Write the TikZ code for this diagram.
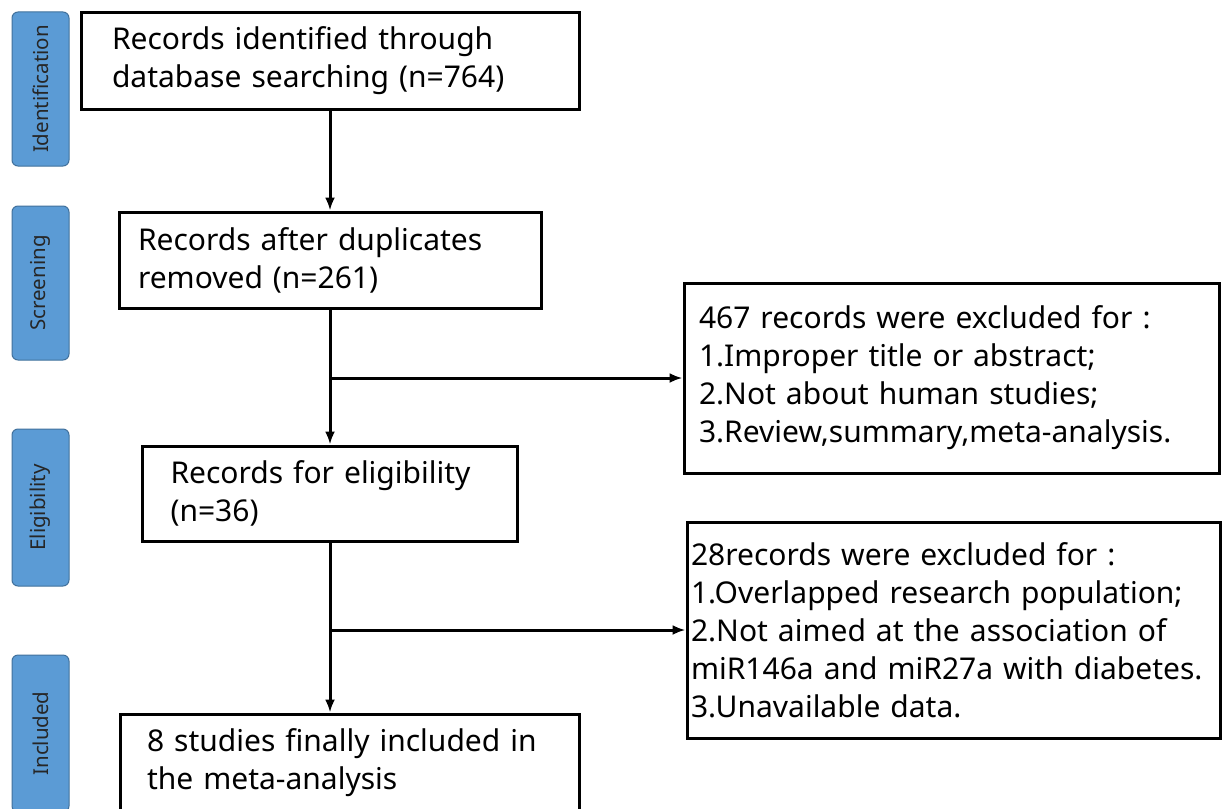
\documentclass[tikz,border=0pt]{standalone}
\usepackage{fontspec}
\setmainfont{Noto Sans}
\usetikzlibrary{arrows.meta}
\definecolor{stageblue}{RGB}{91,155,213}
\definecolor{stageline}{RGB}{65,113,156}

\begin{document}
\begin{tikzpicture}[>={Latex[length=13pt,width=10pt]},x=1pt,y=-1pt]
  \tikzstyle{stage}=[draw=stageline,line width=1pt,fill=stageblue,rounded corners=6pt,rotate=90,minimum height=57pt,inner sep=0pt,font=\fontsize{20.5}{24}\selectfont,text=black!85]
  \tikzstyle{rec}=[draw,line width=3pt,align=left,inner ysep=0pt,font=\fontsize{30}{38}\selectfont]
  \tikzstyle{link}=[line width=3pt,->]
  \clip (0,0) rectangle (1222,808);
  \fill[white] (0,0) rectangle (1222,808);
  % stages on the left
  \node[stage,minimum width=154pt] (sid) at (40.5,89) {Identification};
  \node[stage,minimum width=154pt] (sscr) at (40.5,283) {Screening};
  \node[stage,minimum width=157pt] (selig) at (40.5,507.5) {Eligibility};
  \node[stage,minimum width=157pt] (sincl) at (40.5,733.5) {Included};
  % main column
  \node[rec,text width=436pt,inner xsep=31pt,minimum height=96pt] (id) at (330,61) {Records identified through\\database searching (n=764)};
  \node[rec,text width=384pt,inner xsep=19pt,minimum height=96pt] (scr) at (330,260) {Records after duplicates\\removed (n=261)};
  \node[rec,text width=319pt,inner xsep=28pt,minimum height=95pt] (elig) at (330,493.5) {Records for eligibility\\(n=36)};
  \node[rec,text width=405pt,inner xsep=27pt,minimum height=98pt] (incl) at (349.5,763) {8 studies finally included in\\the meta-analysis};
  % excluded records
  \node[rec,text width=505pt,inner xsep=15pt,minimum height=190pt] (exc1) at (951.5,378) {467 records were excluded for :\\1.Improper title or abstract;\\2.Not about human studies;\\3.Review,summary,meta-analysis.};
  \node[rec,text width=525pt,inner xsep=4pt,minimum height=216pt] (exc2) at (953.5,630) {28records were excluded for :\\1.Overlapped research population;\\2.Not aimed at the association of\\miR146a and miR27a with diabetes.\\3.Unavailable data.};
  % connectors
  \coordinate (b1) at (scr.south |- exc1.west);
  \coordinate (b2) at (elig.south |- exc2.west);
  \draw[link] (id.south) -- (scr.north);
  \draw[link] (scr.south) -- (elig.north);
  \draw[link] (elig.south) -- (elig.south |- incl.north);
  \draw[link] (b1) -- (exc1.west);
  \draw[link] (b2) -- (exc2.west);
\end{tikzpicture}
\end{document}
